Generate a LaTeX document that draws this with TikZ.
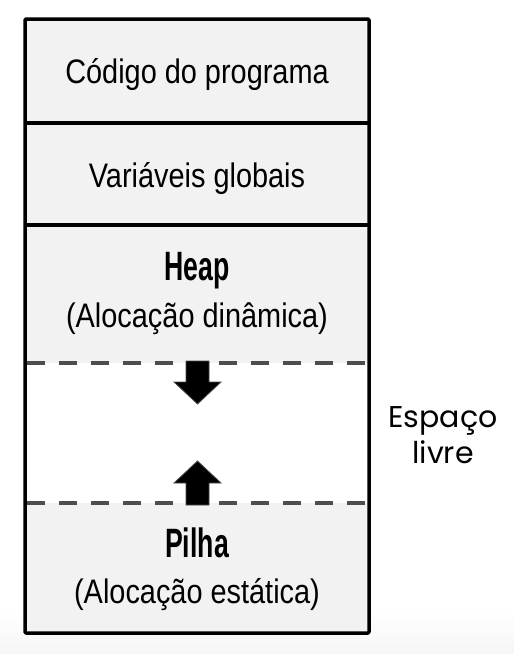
\documentclass[tikz,border=0pt]{standalone}
\usepackage{fontspec}
\newfontfamily\condfont[FakeStretch=0.85]{Liberation Sans}
\newfontfamily\boldcond[FakeStretch=0.65]{Liberation Sans}
\newfontfamily\ralefont{Poppins}
\definecolor{secfill}{HTML}{F2F2F2}
\definecolor{dashcol}{HTML}{4D4D4D}
\definecolor{bottombg}{HTML}{F6F6F6}
\tikzset{
  seclabel/.style={anchor=base, inner sep=0pt, font=\condfont\fontsize{34}{38}\selectfont},
  titlelabel/.style={anchor=base, inner sep=0pt, font=\boldcond\bfseries\fontsize{41}{45}\selectfont},
  sidelabel/.style={anchor=base, inner sep=0pt, font=\ralefont\fontsize{30}{34}\selectfont},
  divider/.style={line width=3.5pt, black},
  freeline/.style={line width=4pt, dashcol, dash pattern=on 18pt off 14pt},
  blockarrow/.style={fill=black, draw=black!70, line width=0.8pt, line join=miter}
}
\begin{document}
\begin{tikzpicture}[x=1pt, y=-1pt]
  \useasboundingbox (0,0) rectangle (514,654);
  \fill[white] (0,0) rectangle (514,654);
  \shade[top color=white, bottom color=bottombg] (0,610) rectangle (514,654);
  % section fills
  \fill[secfill] (25,19) rectangle (369,363);
  \fill[secfill] (25,503) rectangle (369,633);
  % dashed boundaries of free space
  \draw[freeline] (27,363) -- (367,363);
  \draw[freeline] (27,503) -- (367,503);
  % block arrows
  \filldraw[blockarrow] (186,361) -- (209,361) -- (209,382) -- (221,382) -- (197.5,404) -- (174,382) -- (186,382) -- cycle;
  \filldraw[blockarrow] (186,505) -- (209,505) -- (209,483) -- (221,483) -- (197.5,461) -- (174,483) -- (186,483) -- cycle;
  % solid dividers
  \draw[divider] (25,123) -- (369,123);
  \draw[divider] (25,225) -- (369,225);
  % outer frame
  \draw[line width=3.5pt, line join=round, rounded corners=1pt] (25,19) rectangle (369,633);
  % labels
  \node[seclabel] (codigo) at (197,83) {Código do programa};
  \node[seclabel] (globais) at (197,187) {Variáveis globais};
  \node[titlelabel] (heap) at (197,280) {Heap};
  \node[seclabel] (dinamica) at (197,327) {(Alocação dinâmica)};
  \node[titlelabel] (pilha) at (197,557) {Pilha};
  \node[seclabel] (estatica) at (197,603) {(Alocação estática)};
  \node[sidelabel] (espaco) at (443,427) {Espaço};
  \node[sidelabel] (livre) at (443,463) {livre};
\end{tikzpicture}
\end{document}
